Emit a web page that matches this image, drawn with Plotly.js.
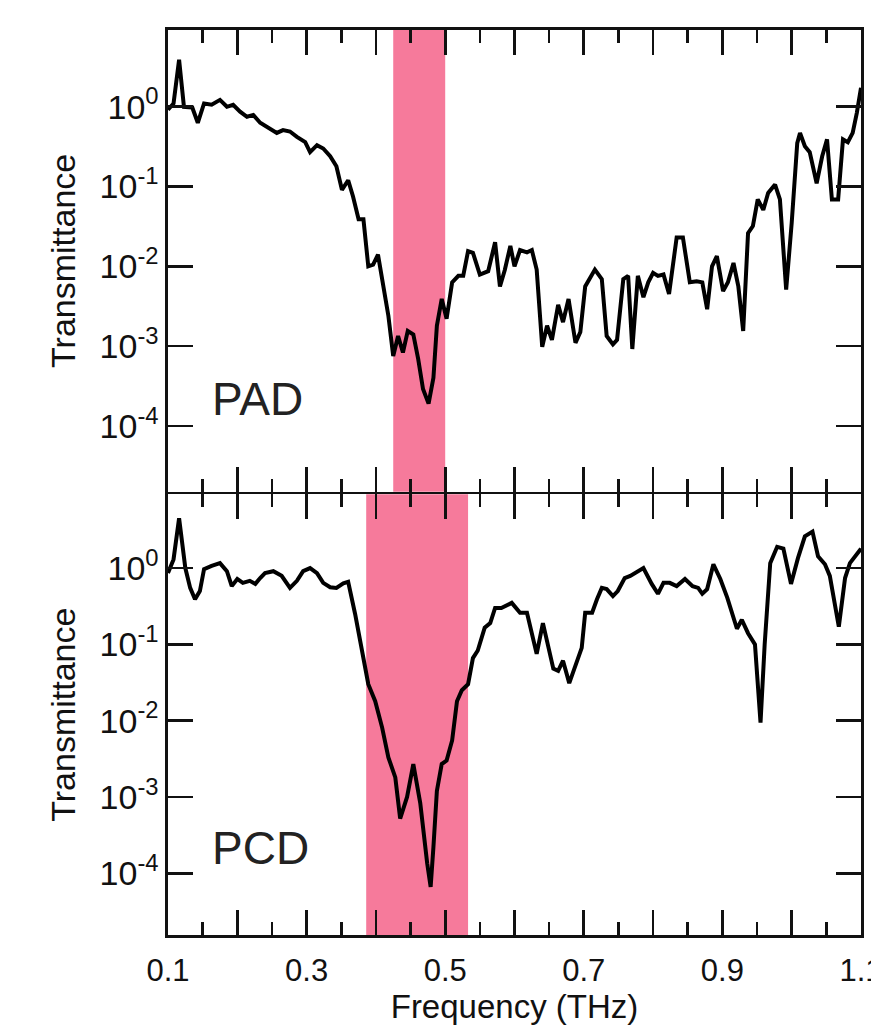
<!DOCTYPE html>
<html><head><meta charset="utf-8">
<script src="https://cdn.plot.ly/plotly-3.0.1.min.js"></script>
<style>html,body{margin:0;padding:0;background:#fff}</style>
</head><body><div id="chart" style="width:871px;height:1027px"></div>
<script>
const padFreq = [0.100,0.108,0.116,0.123,0.135,0.143,0.152,0.163,0.175,0.185,0.194,0.204,0.214,0.223,0.233,0.243,0.257,0.266,0.276,0.286,0.298,0.305,0.315,0.324,0.334,0.343,0.351,0.360,0.367,0.375,0.382,0.389,0.396,0.403,0.410,0.418,0.425,0.432,0.439,0.446,0.454,0.461,0.468,0.476,0.483,0.488,0.495,0.502,0.510,0.519,0.526,0.533,0.540,0.550,0.562,0.572,0.579,0.586,0.594,0.600,0.608,0.618,0.625,0.632,0.640,0.647,0.654,0.663,0.670,0.678,0.688,0.695,0.702,0.716,0.726,0.733,0.742,0.748,0.757,0.764,0.770,0.778,0.786,0.793,0.800,0.807,0.815,0.823,0.834,0.843,0.853,0.863,0.871,0.878,0.885,0.892,0.901,0.908,0.916,0.923,0.930,0.937,0.944,0.951,0.959,0.966,0.976,0.983,0.992,1.000,1.008,1.012,1.019,1.026,1.036,1.044,1.051,1.058,1.067,1.074,1.081,1.088,1.094,1.100];
const padT = [0.92,1.1,3.9,1.0,0.98,0.63,1.1,1.06,1.22,1.0,1.06,0.87,0.75,0.79,0.63,0.55,0.47,0.51,0.49,0.42,0.36,0.27,0.33,0.30,0.24,0.18,0.091,0.12,0.075,0.039,0.039,0.010,0.0105,0.014,0.0063,0.0024,0.00075,0.00134,0.00083,0.00155,0.0014,0.00069,0.00029,0.00019,0.0004,0.0018,0.0039,0.0022,0.0063,0.0076,0.0076,0.0155,0.0148,0.0079,0.0087,0.020,0.0056,0.009,0.018,0.010,0.016,0.015,0.016,0.0091,0.00098,0.0018,0.0012,0.0033,0.0020,0.0039,0.0011,0.0015,0.0056,0.0091,0.0069,0.00134,0.00105,0.0012,0.0069,0.0076,0.00092,0.0076,0.0041,0.0063,0.0083,0.0076,0.0079,0.0045,0.023,0.023,0.0063,0.0065,0.0063,0.0029,0.010,0.0134,0.0049,0.0063,0.011,0.0056,0.00155,0.026,0.032,0.069,0.051,0.083,0.106,0.069,0.0051,0.035,0.35,0.47,0.32,0.27,0.11,0.24,0.39,0.069,0.069,0.39,0.36,0.47,0.84,1.73];

const pcdFreq = [0.100,0.108,0.116,0.125,0.132,0.139,0.146,0.152,0.163,0.175,0.185,0.192,0.200,0.208,0.218,0.226,0.233,0.240,0.252,0.264,0.276,0.286,0.295,0.305,0.315,0.324,0.334,0.343,0.353,0.360,0.370,0.380,0.389,0.399,0.409,0.418,0.428,0.435,0.445,0.454,0.464,0.474,0.479,0.483,0.488,0.495,0.502,0.510,0.517,0.524,0.533,0.540,0.547,0.557,0.565,0.572,0.581,0.596,0.608,0.618,0.632,0.641,0.656,0.663,0.670,0.679,0.690,0.697,0.702,0.712,0.719,0.726,0.733,0.742,0.749,0.759,0.767,0.774,0.786,0.798,0.807,0.815,0.824,0.834,0.846,0.857,0.865,0.871,0.878,0.887,0.897,0.907,0.914,0.921,0.928,0.937,0.947,0.955,0.961,0.969,0.979,0.988,0.999,1.009,1.019,1.030,1.038,1.048,1.055,1.068,1.077,1.084,1.100];
const pcdT = [0.86,1.3,4.5,1.0,0.55,0.39,0.50,0.97,1.07,1.16,0.91,0.58,0.72,0.64,0.68,0.62,0.74,0.86,0.91,0.79,0.55,0.68,0.91,1.0,0.86,0.64,0.56,0.55,0.63,0.66,0.25,0.083,0.030,0.018,0.0081,0.0033,0.0018,0.00052,0.0010,0.0027,0.00083,0.000135,0.000066,0.00022,0.0012,0.0027,0.0030,0.0055,0.018,0.025,0.030,0.066,0.083,0.165,0.19,0.30,0.30,0.35,0.26,0.26,0.075,0.19,0.048,0.045,0.061,0.031,0.061,0.09,0.26,0.26,0.39,0.55,0.53,0.43,0.50,0.74,0.79,0.86,1.0,0.62,0.46,0.64,0.64,0.58,0.72,0.58,0.55,0.46,0.53,1.12,0.72,0.41,0.25,0.16,0.21,0.14,0.10,0.0094,0.10,1.16,1.9,1.8,0.62,1.35,2.6,3.0,1.43,1.12,0.79,0.17,0.74,1.16,1.8];

const bandPAD = [0.425, 0.5];
const bandPCD = [0.386, 0.533];
const panelLabels = ['PAD', 'PCD'];
const xTickVals = [0.1,0.2,0.3,0.4,0.5,0.6,0.7,0.8,0.9,1.0,1.1];
const xTickText = ['0.1','','0.3','','0.5','','0.7','','0.9','','1.1'];
const xMinorVals = [0.15,0.25,0.35,0.45,0.55,0.65,0.75,0.85,0.95,1.05];
const yTickVals = [1e-4,1e-3,1e-2,1e-1,1];
const yTickText = ['10<sup>-4</sup>','10<sup>-3</sup>','10<sup>-2</sup>','10<sup>-1</sup>','10<sup>0</sup>'];

const bandColor = 'rgb(246,122,155)';
const ink = '#111';
const lw = 2.6;
const H = 905;
const split = 0.4884;
const half = (lw / 2) / H;

const traces = [
  {x: padFreq, y: padT, xaxis: 'x2', yaxis: 'y', mode: 'lines', name: 'PAD',
   line: {color: '#000', width: 4}, showlegend: false},
  {x: pcdFreq, y: pcdT, xaxis: 'x', yaxis: 'y2', mode: 'lines', name: 'PCD',
   line: {color: '#000', width: 4}, showlegend: false},
  {x: [], y: [], xaxis: 'x3', yaxis: 'y2', mode: 'lines', showlegend: false, hoverinfo: 'skip'},
  {x: [], y: [], xaxis: 'x4', yaxis: 'y', mode: 'lines', showlegend: false, hoverinfo: 'skip'}
];

function xAxis(extra) {
  return Object.assign({
    range: [0.1, 1.1], tickmode: 'array', tickvals: xTickVals.slice(), ticktext: xTickText.slice(),
    ticks: 'inside', ticklen: 25, tickwidth: lw, tickcolor: ink,
    showline: true, linewidth: lw, linecolor: ink, mirror: 'ticks',
    showgrid: false, zeroline: false,
    tickfont: {family: 'Liberation Sans, Arial, sans-serif', size: 31, color: ink}
  }, extra);
}
function xMinor(extra) {
  return Object.assign({
    range: [0.1, 1.1], tickmode: 'array', tickvals: xMinorVals.slice(),
    ticks: 'inside', ticklen: 13, tickwidth: lw, tickcolor: ink,
    showline: false, mirror: 'ticks', showticklabels: false,
    showgrid: false, zeroline: false
  }, extra);
}
function yAxis(extra) {
  return Object.assign({
    type: 'log', tickmode: 'array', tickvals: yTickVals.slice(), ticktext: yTickText.slice(),
    ticks: 'inside', ticklen: 25, tickwidth: lw, tickcolor: ink,
    showline: true, linewidth: lw, linecolor: ink, mirror: 'ticks',
    showgrid: false, zeroline: false,
    tickfont: {family: 'Liberation Sans Narrow, Arial Narrow, Liberation Sans, Arial, sans-serif', size: 34, color: ink}
  }, extra);
}
const titleFont = {family: 'Liberation Sans, Arial, sans-serif', size: 34, color: ink};

const layout = {
  width: 871, height: 1027,
  margin: {l: 168, r: 10, t: 30, b: 92},
  paper_bgcolor: '#fff', plot_bgcolor: '#fff',
  showlegend: false,
  xaxis: xAxis({anchor: 'y2', ticklabeloverflow: 'allow', ticklabelstandoff: 6,
    title: {text: 'Frequency (THz)', font: {family: 'Liberation Sans, Arial, sans-serif', size: 33, color: ink}, standoff: 0}}),
  xaxis2: xAxis({anchor: 'y', showticklabels: false}),
  xaxis3: xMinor({anchor: 'y2', overlaying: 'x'}),
  xaxis4: xMinor({anchor: 'y', overlaying: 'x2'}),
  yaxis: yAxis({domain: [split + half, 1], range: [-4.825, 0.9625], anchor: 'x2',
    title: {text: 'Transmittance', font: titleFont, standoff: 14}}),
  yaxis2: yAxis({domain: [0, split - half], range: [-4.81, 0.967], anchor: 'x',
    title: {text: 'Transmittance', font: titleFont, standoff: 14}}),
  shapes: [
    {type: 'rect', xref: 'x2', yref: 'y domain', x0: bandPAD[0], x1: bandPAD[1], y0: 0, y1: 1,
     fillcolor: bandColor, line: {width: 0}, layer: 'below'},
    {type: 'rect', xref: 'x', yref: 'y2 domain', x0: bandPCD[0], x1: bandPCD[1], y0: 0, y1: 1,
     fillcolor: bandColor, line: {width: 0}, layer: 'below'}
  ],
  annotations: [
    {text: panelLabels[0], xref: 'x2 domain', yref: 'y domain', x: 0.06, y: 0.2, xanchor: 'left', yanchor: 'middle',
     showarrow: false, font: {family: 'Liberation Sans, Arial, sans-serif', size: 46, color: '#222'}},
    {text: panelLabels[1], xref: 'x domain', yref: 'y2 domain', x: 0.06, y: 0.197, xanchor: 'left', yanchor: 'middle',
     showarrow: false, font: {family: 'Liberation Sans, Arial, sans-serif', size: 46, color: '#222'}}
  ]
};

Plotly.newPlot('chart', traces, layout, {displayModeBar: false, staticPlot: true});
</script>
</body></html>
